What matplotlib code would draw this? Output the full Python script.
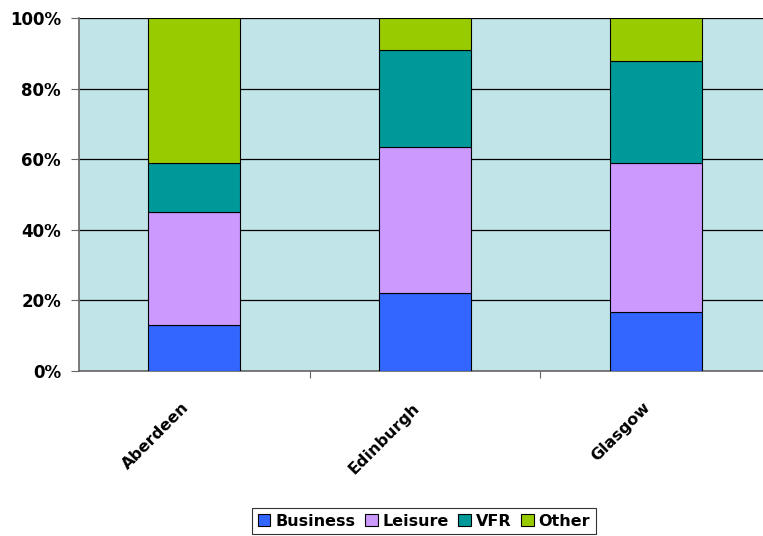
import matplotlib.pyplot as plt
import matplotlib.transforms as mtransforms
import numpy as np

# data (percent share by city)
cities = ["Aberdeen", "Edinburgh", "Glasgow"]
business = [13.0, 22.0, 16.8]
leisure = [32.0, 41.5, 42.1]
vfr = [14.0, 27.4, 28.9]
other = [41.0, 9.1, 12.2]

series = [("Business", business, "#3366FF"),
          ("Leisure", leisure, "#CC99FF"),
          ("VFR", vfr, "#009999"),
          ("Other", other, "#99CC00")]

fig = plt.figure(figsize=(7.63, 5.36), dpi=100)
ax = fig.add_axes([79 / 763, 165 / 536, 692 / 763, 353 / 536])
ax.set_facecolor("#C1E4E9")

x = np.arange(len(cities))
bottom = np.zeros(len(cities))
for name, vals, col in series:
    ax.bar(x, vals, 0.4, bottom=bottom, color=col, edgecolor="black",
           linewidth=0.8, label=name, zorder=3)
    bottom += np.array(vals)

ax.set_xlim(-0.5, 2.5)
ax.set_ylim(0, 100)
ax.set_yticks(np.arange(0, 101, 20))
ax.set_yticklabels([f"{v}%" for v in range(0, 101, 20)],
                   fontsize=12, fontweight="bold")
ax.yaxis.grid(True, color="black", linewidth=0.9, zorder=1)

# category ticks sit between the groups, names drawn as text under each bar
ax.set_xticks([0.5, 1.5])
ax.set_xticklabels([])
shift = mtransforms.ScaledTranslation(-13 / 100, -29 / 100, fig.dpi_scale_trans)
for xi, name in zip(x, cities):
    ax.text(xi, 0, name, transform=ax.get_xaxis_transform() + shift,
            rotation=45, ha="right", va="top", rotation_mode="anchor",
            fontsize=11.5, fontweight="bold", clip_on=False)
ax.tick_params(axis="x", which="major", length=5, color="#666666")
ax.tick_params(axis="y", length=6, color="#666666", pad=7)

for s in ["top", "right"]:
    ax.spines[s].set_visible(False)
for s in ["left", "bottom"]:
    ax.spines[s].set_color("#666666")
    ax.spines[s].set_linewidth(1.2)

leg = fig.legend(loc="center", bbox_to_anchor=(424 / 763, 1 - 521 / 536),
                 ncol=4, frameon=True, fancybox=False, edgecolor="black",
                 handlelength=0.8, handleheight=0.8, handletextpad=0.3,
                 columnspacing=0.6, borderpad=0.35,
                 prop={"weight": "bold", "size": 11.5})
leg.get_frame().set_linewidth(0.8)

fig.savefig("out.png", dpi=100)
